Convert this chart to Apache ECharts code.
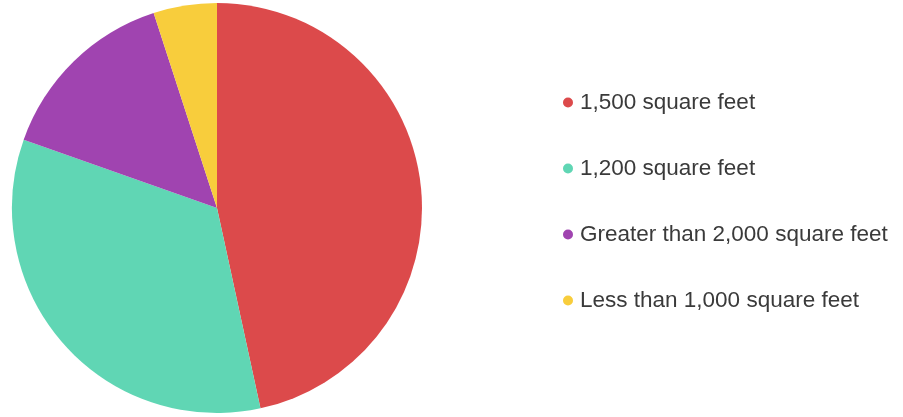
<!DOCTYPE html>
<html><head><meta charset="utf-8">
<script src="https://cdn.jsdelivr.net/npm/echarts@6/dist/echarts.min.js"></script>
<style>html,body{margin:0;padding:0;background:#fff}#c{width:903px;height:417px}</style>
</head><body><div id="c"></div>
<script>
const categories = ["1,500 square feet", "1,200 square feet", "Greater than 2,000 square feet", "Less than 1,000 square feet"];
const values = [46.6, 33.8, 14.6, 5.0];
const colors = ["#dc4a4b", "#60d6b4", "#a044b0", "#f8cd3c"];

const chart = echarts.init(document.getElementById('c'));
chart.setOption({
  animation: false,
  color: colors,
  legend: {
    orient: 'vertical',
    left: 558,
    top: 86,
    icon: 'circle',
    itemWidth: 10,
    itemHeight: 10,
    itemGap: 43,
    textStyle: { fontFamily: 'Liberation Sans, Arial, sans-serif', fontSize: 22.5, color: '#3a3a3a', padding: [0,0,0,2] },
    data: categories
  },
  series: [{
    type: 'pie',
    center: [217, 208],
    radius: 205,
    startAngle: 90,
    clockwise: true,
    label: { show: false },
    labelLine: { show: false },
    itemStyle: { borderWidth: 0 },
    data: categories.map((n, i) => ({ name: n, value: values[i] }))
  }]
});
</script></body></html>
